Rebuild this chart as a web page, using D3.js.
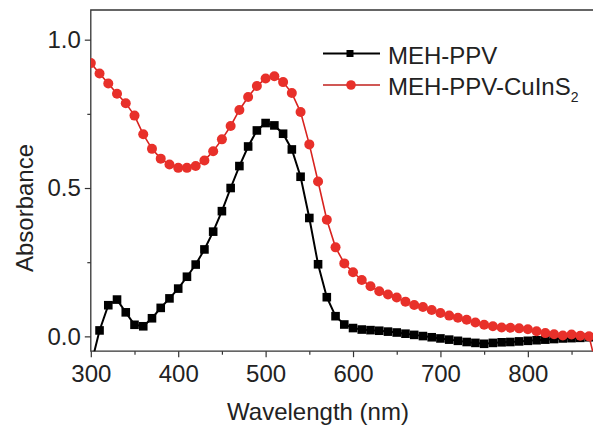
<!DOCTYPE html>
<html><head><meta charset="utf-8">
<script src="https://cdn.jsdelivr.net/npm/d3@7"></script>
<style>body{margin:0;background:#fff}svg{display:block}text{font-family:"Liberation Sans",Arial,sans-serif;fill:#222}</style>
</head><body><svg id="c" width="593" height="425"></svg>
<script>
const wavelengthsBlack = [300,310,320,330,340,350,360,370,380,390,400,410,420,430,440,450,460,470,480,490,500,510,520,530,540,550,560,570,580,590,600,610,620,630,640,650,660,670,680,690,700,710,720,730,740,750,760,770,780,790,800,810,820,830,840,850,860,870];
const mehPPV = [-0.10,0.020,0.105,0.124,0.081,0.039,0.034,0.061,0.096,0.128,0.161,0.201,0.242,0.293,0.353,0.422,0.500,0.574,0.640,0.694,0.719,0.711,0.683,0.630,0.538,0.399,0.243,0.132,0.068,0.040,0.028,0.023,0.021,0.019,0.016,0.013,0.009,0.005,0.001,-0.003,-0.007,-0.011,-0.015,-0.019,-0.022,-0.025,-0.022,-0.020,-0.019,-0.017,-0.015,-0.013,-0.011,-0.009,-0.007,-0.006,-0.005,-0.003];
const wavelengthsRed = [300,310,320,330,340,350,360,370,380,390,400,410,420,430,440,450,460,470,480,490,500,510,520,530,540,550,560,570,580,590,600,610,620,630,640,650,660,670,680,690,700,710,720,730,740,750,760,770,780,790,800,810,820,830,840,850,860,870,880];
const mehPPVCuInS2 = [0.921,0.886,0.852,0.818,0.786,0.744,0.681,0.632,0.599,0.579,0.568,0.568,0.574,0.593,0.624,0.664,0.709,0.763,0.807,0.844,0.869,0.877,0.857,0.820,0.756,0.647,0.522,0.393,0.300,0.246,0.216,0.190,0.169,0.152,0.141,0.131,0.117,0.106,0.099,0.089,0.079,0.070,0.063,0.056,0.047,0.039,0.034,0.030,0.029,0.027,0.024,0.017,0.011,0.007,0.003,0.006,0.002,0.000,-0.12];
const xTicks = [300,400,500,600,700,800];
const xMinor = [350,450,550,650,750,850];
const yTicks = [0.0,0.5,1.0];
const yMinor = [0.25,0.75];
const seriesNames = ["MEH-PPV","MEH-PPV-CuInS"];

const svg = d3.select("#c");
const L=90.8, R=593.4, T=10, B=351.2;
const x = d3.scaleLinear().domain([300,875]).range([L,R]);
const y = d3.scaleLinear().domain([-0.05,1.1]).range([B,T]);
const axisColor="#333";

svg.append("defs").append("clipPath").attr("id","clip")
  .append("rect").attr("x",L).attr("y",T).attr("width",R-L).attr("height",B-T);

// frame (top, left, bottom; right edge is cut off)
svg.append("path").attr("d",`M${R+2},${T}H${L}V${B}H${R+2}`)
  .attr("fill","none").attr("stroke",axisColor).attr("stroke-width",1.3);

// axes
svg.append("g").attr("transform",`translate(0,${B})`)
  .call(d3.axisBottom(x).tickValues(xTicks).tickSize(6).tickPadding(8).tickFormat(d3.format("d")));
svg.append("g").attr("transform",`translate(0,${B})`)
  .call(d3.axisBottom(x).tickValues(xMinor).tickSize(3.5).tickFormat(""));
svg.append("g").attr("transform",`translate(${L},0)`)
  .call(d3.axisLeft(y).tickValues(yTicks).tickSize(6).tickPadding(4).tickFormat(d3.format(".1f")));
svg.append("g").attr("transform",`translate(${L},0)`)
  .call(d3.axisLeft(y).tickValues(yMinor).tickSize(3.5).tickFormat(""));
svg.selectAll(".domain").remove();
svg.selectAll(".tick line").attr("stroke",axisColor).attr("stroke-width",1.2);
svg.selectAll(".tick text").style("font-size","24px").attr("fill","#222");

// axis titles
svg.append("text").attr("x",318).attr("y",420).attr("text-anchor","middle")
  .style("font-size","24px").text("Wavelength (nm)");
svg.append("text").attr("transform","translate(33,208) rotate(-90)").attr("text-anchor","middle")
  .style("font-size","24px").text("Absorbance");

const plot = svg.append("g").attr("clip-path","url(#clip)");
const black = wavelengthsBlack.map((w,i)=>[w,mehPPV[i]]);
const red = wavelengthsRed.map((w,i)=>[w,mehPPVCuInS2[i]]);
const line = d3.line().x(d=>x(d[0])).y(d=>y(d[1]));

plot.append("path").datum(black).attr("d",line).attr("fill","none").attr("stroke","#000").attr("stroke-width",2);
plot.selectAll("rect.pb").data(black).join("rect").attr("class","pb")
  .attr("x",d=>x(d[0])-4.3).attr("y",d=>y(d[1])-4.3).attr("width",8.6).attr("height",8.6).attr("fill","#000");

const redLine="#d8231f", redFill="#e8302a";
plot.append("path").datum(red).attr("d",line).attr("fill","none").attr("stroke",redLine).attr("stroke-width",1.6);
plot.selectAll("circle.pr").data(red).join("circle").attr("class","pr")
  .attr("cx",d=>x(d[0])).attr("cy",d=>y(d[1])).attr("r",5).attr("fill",redFill);

// legend
const lg = svg.append("g");
lg.append("line").attr("x1",323).attr("x2",380).attr("y1",53.5).attr("y2",53.5).attr("stroke","#000").attr("stroke-width",2);
lg.append("rect").attr("x",350-3.5).attr("y",53.5-3.5).attr("width",7).attr("height",7).attr("fill","#000");
lg.append("text").attr("x",388).attr("y",63.5).style("font-size","24px").text(seriesNames[0]);
lg.append("line").attr("x1",323).attr("x2",380).attr("y1",85).attr("y2",85).attr("stroke","#c0201c").attr("stroke-width",1.6);
lg.append("circle").attr("cx",351).attr("cy",85).attr("r",4.8).attr("fill",redFill);
const t2 = lg.append("text").attr("x",388).attr("y",95).style("font-size","24px");
t2.append("tspan").text(seriesNames[1]);
t2.append("tspan").attr("dy",7).style("font-size","14px").text("2");
</script></body></html>
